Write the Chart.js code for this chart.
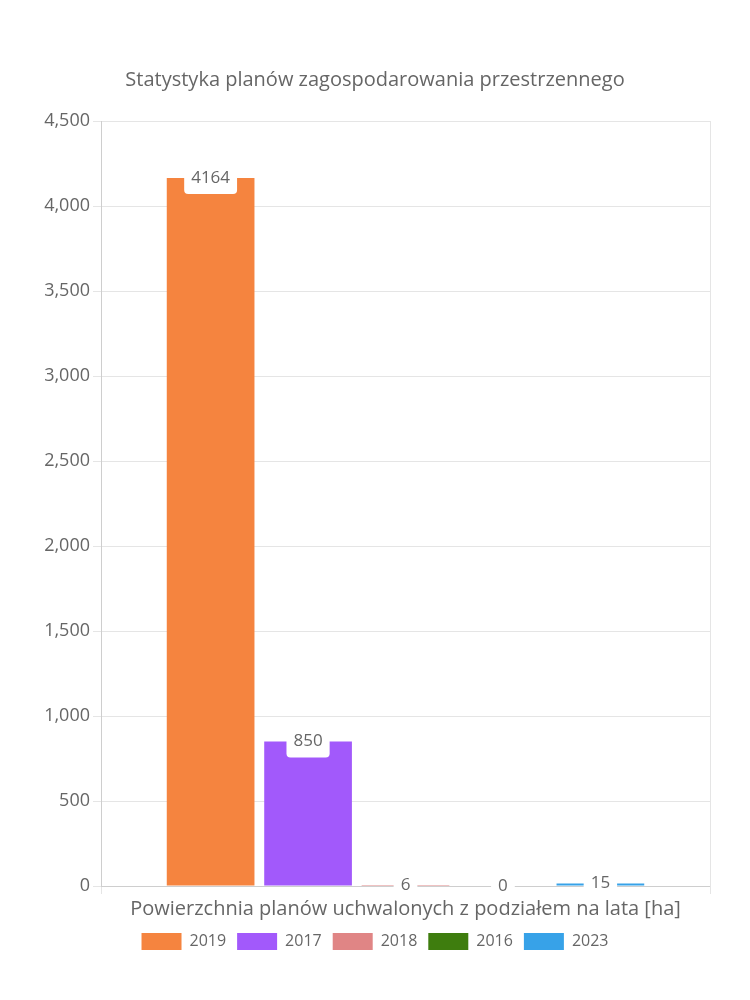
<!DOCTYPE html>
<html>
<head>
<meta charset="utf-8">
<script src="https://cdn.jsdelivr.net/npm/chart.js@4"></script>
<style>
  body { margin: 0; background: #fff; }
  #wrap { width: 750px; height: 1000px; position: relative; }
</style>
</head>
<body>
<div id="wrap"><canvas id="planChart"></canvas></div>
<script>
const categories = ['Powierzchnia planów uchwalonych z podziałem na lata [ha]'];
const years = ['2019', '2017', '2018', '2016', '2023'];
const areas = [4164, 850, 6, 0, 15];
const colors = ['#f5843f', '#a259fb', '#e08585', '#3e7d0e', '#37a2e8'];
const yTicks = [0, 500, 1000, 1500, 2000, 2500, 3000, 3500, 4000, 4500];

const FONT = "'Open Sans', sans-serif";
const GREY = '#666';

// label box drawn centered on the top edge of every bar
const valueLabels = {
    id: 'valueLabels',
    afterDatasetsDraw(chart) {
        const ctx = chart.ctx;
        ctx.save();
        ctx.font = '17px ' + FONT;
        ctx.textAlign = 'center';
        ctx.textBaseline = 'middle';
        chart.data.datasets.forEach((ds, i) => {
            const meta = chart.getDatasetMeta(i);
            meta.data.forEach((bar, j) => {
                const txt = String(ds.data[j]);
                const w = ctx.measureText(txt).width + 14;
                const h = 32;
                const x = bar.x, y = bar.y;
                ctx.fillStyle = '#fff';
                ctx.beginPath();
                ctx.roundRect(x - w / 2, y - h / 2, w, h, 4);
                ctx.fill();
                ctx.fillStyle = GREY;
                ctx.fillText(txt, x, y);
            });
        });
        ctx.restore();
    }
};

new Chart(document.getElementById('planChart').getContext('2d'), {
    type: 'bar',
    data: {
        labels: categories,
        datasets: years.map((y, i) => ({
            label: y,
            data: [areas[i]],
            backgroundColor: colors[i]
        }))
    },
    options: {
        responsive: true,
        maintainAspectRatio: false,
        animation: false,
        layout: { padding: { top: 58, right: 40, bottom: 40, left: 40 } },
        plugins: {
            title: {
                display: true,
                text: 'Statystyka planów zagospodarowania przestrzennego',
                color: GREY,
                font: { family: FONT, size: 20, weight: 'normal' },
                padding: { top: 10, bottom: 29 }
            },
            legend: {
                position: 'bottom',
                labels: {
                    color: GREY,
                    font: { family: FONT, size: 16 },
                    boxWidth: 40,
                    boxHeight: 17,
                    padding: 11
                }
            },
            tooltip: { enabled: false }
        },
        scales: {
            x: {
                afterFit: (s) => { s.height = s.height - 2; },
                ticks: { color: GREY, font: { family: FONT, size: 20 } }
            },
            y: {
                min: 0,
                max: yTicks[yTicks.length - 1],
                afterBuildTicks: (s) => { s.ticks = yTicks.map(v => ({ value: v })); },
                afterFit: (s) => { s.width = 61; },
                ticks: { color: GREY, font: { family: FONT, size: 18 } }
            }
        }
    },
    plugins: [valueLabels]
});
</script>
</body>
</html>
